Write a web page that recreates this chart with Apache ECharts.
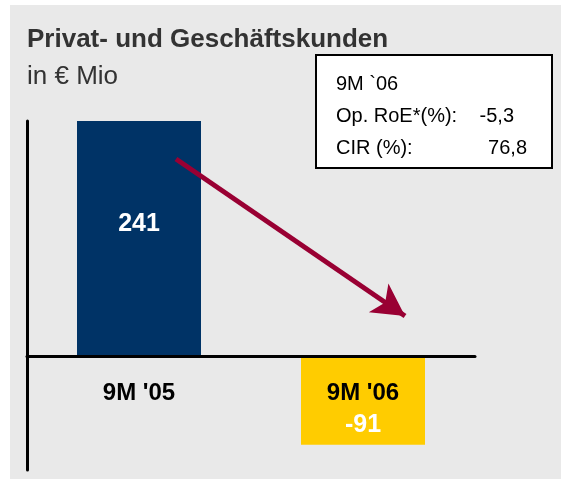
<!DOCTYPE html>
<html>
<head>
<meta charset="utf-8">
<script src="https://cdn.jsdelivr.net/npm/echarts@6/dist/echarts.min.js"></script>
<style>
  html, body { margin: 0; padding: 0; background: #fff; }
  #chart { width: 561px; height: 481px; }
</style>
</head>
<body>
<div id="chart"></div>
<script>
(function () {
    // Daten
    const categories = ['9M \'05', '9M \'06'];
    const values = [241, -91];
    const barColors = ['#003366', '#ffcc00'];
    const kpiTitle = '9M `06';
    const kpiNames = ['Op. RoE*(%):', 'CIR (%):'];
    const kpiValues = ['-5,3', '76,8'];

    const font = 'Liberation Sans, Arial, sans-serif';
    let option = null;
    let myChart = null;

    option = {
        backgroundColor: '#ffffff',
        title: {
            text: 'Privat- und Geschäftskunden',
            subtext: 'in € Mio',
            left: 22,
            top: 22,
            itemGap: 11,
            textStyle: { fontFamily: font, fontSize: 26, fontWeight: 'bold', color: '#333333' },
            subtextStyle: { fontFamily: font, fontSize: 26, color: '#333333' }
        },
        grid: [
            { left: 27, right: 86, top: 121, bottom: 11, outerBoundsMode: 'none' },
            // nur fuer die Kategorienbeschriftung unter der Nulllinie
            { left: 27, right: 86, top: 121, bottom: 125, outerBoundsMode: 'none' }
        ],
        xAxis: [
            {
                type: 'category',
                data: categories,
                z: 10,
                axisLine: { onZero: true, lineStyle: { color: '#000', width: 3 } },
                axisTick: { show: false },
                axisLabel: { show: false }
            },
            {
                type: 'category',
                gridIndex: 1,
                data: categories,
                z: 10,
                axisLine: { show: false },
                axisTick: { show: false },
                axisLabel: {
                    margin: 25,
                    fontFamily: font,
                    fontSize: 24,
                    fontWeight: 'bold',
                    color: '#000'
                }
            }
        ],
        yAxis: [
            {
                type: 'value',
                min: -117,
                max: 241,
                axisLine: { show: true, onZero: false, lineStyle: { color: '#000', width: 3 } },
                axisTick: { show: false },
                axisLabel: { show: false },
                splitLine: { show: false }
            },
            {
                type: 'value',
                gridIndex: 1,
                show: false
            }
        ],
        series: [
            {
                type: 'bar',
                barWidth: 124,
                clip: false,
                data: values.map(function (v, i) {
                    return {
                        value: v,
                        itemStyle: { color: barColors[i] },
                        label: {
                            show: true,
                            position: 'inside',
                            offset: i === 0 ? [0, -14] : [0, 25],
                            formatter: String(v),
                            fontFamily: font,
                            fontSize: 25,
                            fontWeight: 'bold',
                            color: '#ffffff'
                        }
                    };
                }),
                markLine: {
                    silent: true,
                    symbol: ['none', 'arrow'],
                    symbolSize: [26, 32],
                    label: { show: false },
                    lineStyle: { color: '#990033', width: 5, type: 'solid' },
                    data: [[{ x: 176, y: 159 }, { x: 405, y: 316 }]]
                }
            }
        ],
        graphic: [
            {
                type: 'rect',
                z: -10,
                silent: true,
                shape: { x: 10, y: 5, width: 551, height: 474 },
                style: { fill: '#e9e9e9' }
            },
            {
                type: 'group',
                left: 315,
                top: 54,
                children: [
                    {
                        type: 'rect',
                        shape: { x: 0, y: 0, width: 236, height: 113 },
                        style: { fill: '#ffffff', stroke: '#000000', lineWidth: 2 }
                    },
                    {
                        type: 'text',
                        x: 20, y: 29,
                        style: { text: kpiTitle, font: '20px ' + font, fill: '#000', verticalAlign: 'middle' }
                    },
                    {
                        type: 'text',
                        x: 20, y: 61,
                        style: { text: kpiNames[0], font: '20px ' + font, fill: '#000', verticalAlign: 'middle' }
                    },
                    {
                        type: 'text',
                        x: 198, y: 61,
                        style: { text: kpiValues[0], font: '20px ' + font, fill: '#000', verticalAlign: 'middle', align: 'right' }
                    },
                    {
                        type: 'text',
                        x: 20, y: 93,
                        style: { text: kpiNames[1], font: '20px ' + font, fill: '#000', verticalAlign: 'middle' }
                    },
                    {
                        type: 'text',
                        x: 211, y: 93,
                        style: { text: kpiValues[1], font: '20px ' + font, fill: '#000', verticalAlign: 'middle', align: 'right' }
                    }
                ]
            }
        ]
    };

    myChart = echarts.init(document.getElementById('chart'));
    myChart && myChart.setOption(option);
}());
</script>
</body>
</html>
